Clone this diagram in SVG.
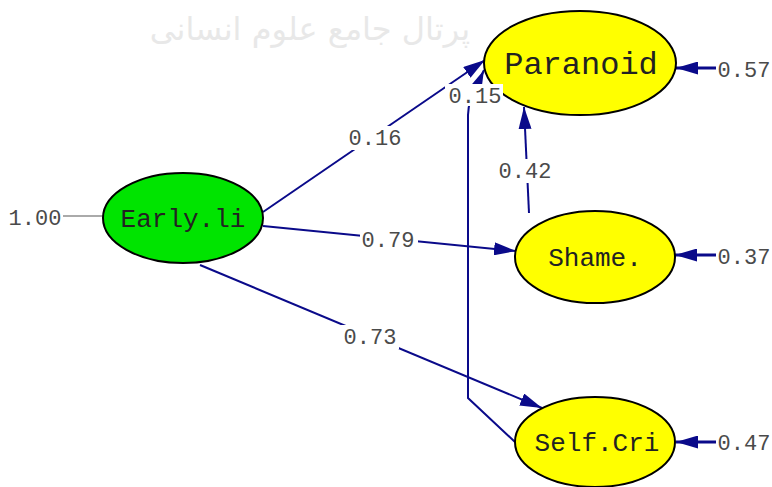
<svg xmlns="http://www.w3.org/2000/svg" width="772" height="487" viewBox="0 0 772 487">
<style>
.node{stroke:#000;stroke-width:2}
.lat{fill:#00e400}
.obs{fill:#ffff00}
.nl{font-family:"Liberation Mono","Courier New",monospace;fill:#222;text-anchor:middle}
.num{font-family:"Liberation Mono","Courier New",monospace;font-size:22px;fill:#4a4a4a;text-anchor:middle}
.path{fill:none;stroke:#0a0a8a;stroke-width:2}
.err{fill:none;stroke:#0a0a8a;stroke-width:3}
.bg{fill:#fff}
.wm{font-family:"DejaVu Sans","Noto Sans",sans-serif;font-size:32px;fill:#e8e8e8}
</style>
<defs>
<marker id="ah" markerUnits="userSpaceOnUse" markerWidth="22" markerHeight="13" refX="22" refY="6.5" orient="auto">
<path d="M0,0 L22,6.5 L0,13 z" fill="#0a0a8a"/>
</marker>
</defs>
<rect width="772" height="487" fill="#fff"/>
<text class="wm" x="310" y="40" direction="rtl" text-anchor="middle">پرتال جامع علوم انسانی</text>
<g id="connectors">
<line x1="63" y1="216" x2="103" y2="216" stroke="#aaa" stroke-width="2"/>
<line class="path" x1="263" y1="212" x2="485" y2="60" marker-end="url(#ah)"/>
<line class="path" x1="263" y1="226" x2="516" y2="251" marker-end="url(#ah)"/>
<line class="path" x1="200" y1="265" x2="542" y2="408" marker-end="url(#ah)"/>
<line class="path" x1="529" y1="213" x2="524" y2="107" marker-end="url(#ah)"/>
<path class="path" d="M515,442 L468,398 L468,115 C468,100 476,88 484,70" marker-end="url(#ah)"/>
<line class="err" x1="716" y1="68" x2="676" y2="68" marker-end="url(#ah)"/>
<line class="err" x1="716" y1="255" x2="675" y2="255" marker-end="url(#ah)"/>
<line class="err" x1="716" y1="442" x2="676" y2="442" marker-end="url(#ah)"/>
</g>
<g id="node-early">
<ellipse class="node lat" cx="183" cy="218" rx="80" ry="45"/>
<text class="nl" x="183" y="227" font-size="26">Early.li</text>
</g>
<g id="node-paranoid">
<ellipse class="node obs" cx="580" cy="63" rx="96" ry="52"/>
<text class="nl" x="581" y="74" font-size="32">Paranoid</text>
</g>
<g id="node-shame">
<ellipse class="node obs" cx="595" cy="257" rx="80" ry="46"/>
<text class="nl" x="595" y="266" font-size="26">Shame.</text>
</g>
<g id="node-selfcri">
<ellipse class="node obs" cx="595" cy="442" rx="80" ry="45"/>
<text class="nl" x="597" y="451" font-size="26">Self.Cri</text>
</g>
<g id="labels">
<text class="num" x="35" y="225">1.00</text>
<rect class="bg" x="346" y="126" width="58" height="24"/>
<text class="num" x="375" y="145">0.16</text>
<rect class="bg" x="360" y="228" width="58" height="24"/>
<text class="num" x="388" y="247">0.79</text>
<rect class="bg" x="341" y="325" width="58" height="24"/>
<text class="num" x="370" y="344">0.73</text>
<rect class="bg" x="496" y="159" width="58" height="24"/>
<text class="num" x="525" y="178">0.42</text>
<rect class="bg" x="445" y="84" width="58" height="22"/>
<text class="num" x="475" y="103">0.15</text>
<text class="num" x="744" y="77">0.57</text>
<text class="num" x="744" y="264">0.37</text>
<text class="num" x="744" y="450">0.47</text>
</g>
</svg>
